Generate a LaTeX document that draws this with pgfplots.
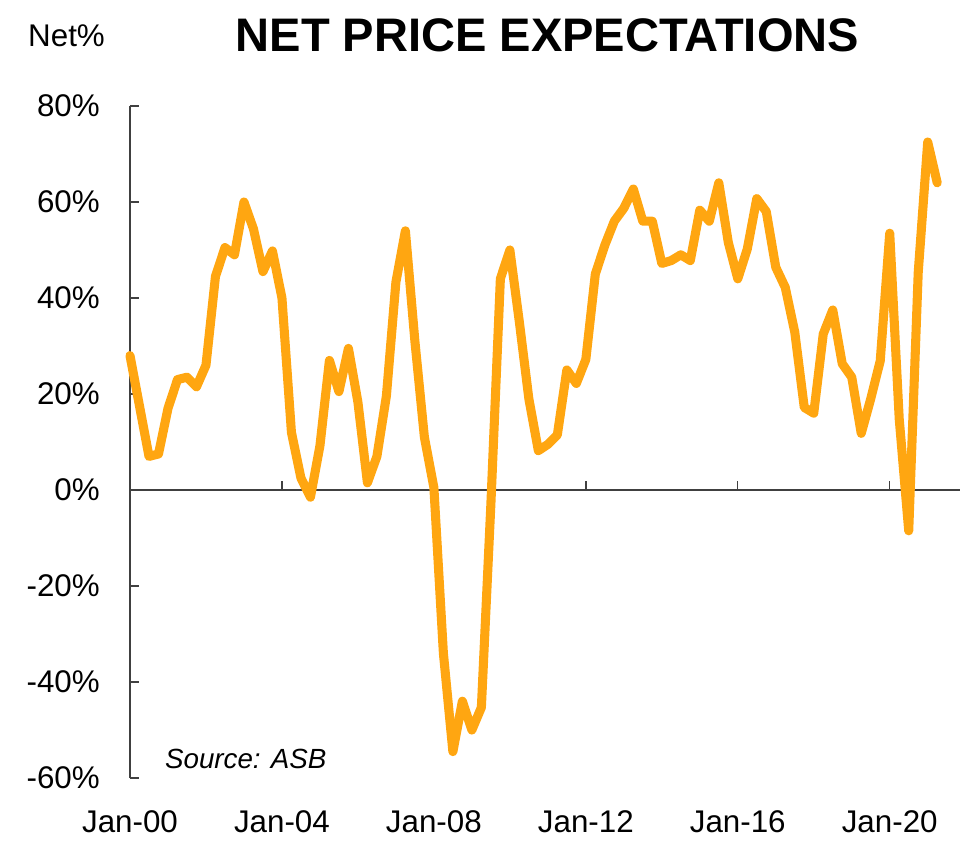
\documentclass[border=0pt]{standalone}
\usepackage{fontspec}
\setmainfont{Liberation Sans}
\usepackage{pgfplots}
\pgfplotsset{compat=1.18}
\usepackage{pgfplotstable}
\definecolor{asborange}{RGB}{255,166,17}
\definecolor{axisgray}{RGB}{64,64,64}

\pgfplotstableread{
year value
2000.00 28
2000.25 17.5
2000.50 7
2000.75 7.5
2001.00 17
2001.25 23
2001.50 23.5
2001.75 21.5
2002.00 26
2002.25 44.5
2002.50 50.5
2002.75 49
2003.00 60
2003.25 54.4
2003.50 45.5
2003.75 49.8
2004.00 40
2004.25 12
2004.50 2.5
2004.75 -1.5
2005.00 9.2
2005.25 27
2005.50 20.5
2005.75 29.5
2006.00 18.3
2006.25 1.5
2006.50 7
2006.75 19.6
2007.00 43.3
2007.25 54
2007.50 31
2007.75 11
2008.00 0.5
2008.25 -34
2008.50 -54.5
2008.75 -44
2009.00 -50
2009.25 -45.3
2009.50 -3
2009.75 44
2010.00 50
2010.25 35
2010.50 19
2010.75 8.2
2011.00 9.5
2011.25 11.5
2011.50 25
2011.75 22.2
2012.00 27.2
2012.25 45
2012.50 51
2012.75 56
2013.00 58.7
2013.25 62.7
2013.50 56
2013.75 56
2014.00 47.2
2014.25 47.8
2014.50 49
2014.75 47.8
2015.00 58.3
2015.25 56
2015.50 64
2015.75 51.6
2016.00 44
2016.25 50.2
2016.50 60.7
2016.75 58
2017.00 46.4
2017.25 42.2
2017.50 32.9
2017.75 17.2
2018.00 16
2018.25 32.5
2018.50 37.5
2018.75 26.3
2019.00 23.5
2019.25 11.8
2019.50 19
2019.75 26.9
2020.00 53.5
2020.25 14.8
2020.50 -8.5
2020.75 45.3
2021.00 72.5
2021.25 64
}\netprice

\begin{document}
\begin{tikzpicture}
\begin{axis}[
  scale only axis,
  width=622.5pt, height=504pt,
  xmin=2000, xmax=2021.85,
  ymin=-60, ymax=80,
  axis x line=middle,
  axis y line=left,
  axis line style={-, draw=axisgray, line width=1pt},
  hide obscured x ticks=false,
  hide obscured y ticks=false,
  tick align=inside,
  major tick length=7pt,
  tick style={draw=axisgray, line width=1pt},
  xtick={2000,2004,2008,2012,2016,2020},
  xticklabels={Jan-00,Jan-04,Jan-08,Jan-12,Jan-16,Jan-20},
  ytick={-60,-40,-20,0,20,40,60,80},
  yticklabels={-60\%,-40\%,-20\%,0\%,20\%,40\%,60\%,80\%},
  ticklabel style={font=\fontsize{23.5}{28}\selectfont, text=black},
  xticklabel style={anchor=base, inner sep=0pt, yshift=-256.5pt},
  yticklabel style={anchor=east, inner sep=0pt, xshift=-22.5pt},
  clip=false,
]
\addplot[color=asborange, line width=6.8pt, line join=round, line cap=round] table[x=year, y=value] {\netprice};
\node[anchor=base west, font=\fontsize{20.8}{25}\selectfont\itshape] at (axis cs:2000.8,-58.1) {Source: ASB};
\coordinate (ll) at (rel axis cs:0,0);
\coordinate (ur) at (rel axis cs:1,1);
\coordinate (tl) at (rel axis cs:0,1);
\end{axis}
\node[anchor=base, font=\fontsize{35.3}{40}\selectfont\bfseries] at ([xshift=313pt,yshift=40.5pt]tl) {NET PRICE EXPECTATIONS};
\node[anchor=base, font=\fontsize{23.5}{28}\selectfont] at ([xshift=-47.6pt,yshift=44.25pt]tl) {Net\%};
\pgfresetboundingbox
\path[use as bounding box] ([xshift=-97.5pt,yshift=-57pt]ll) rectangle ([xshift=3pt,yshift=79.5pt]ur);
\end{tikzpicture}
\end{document}
